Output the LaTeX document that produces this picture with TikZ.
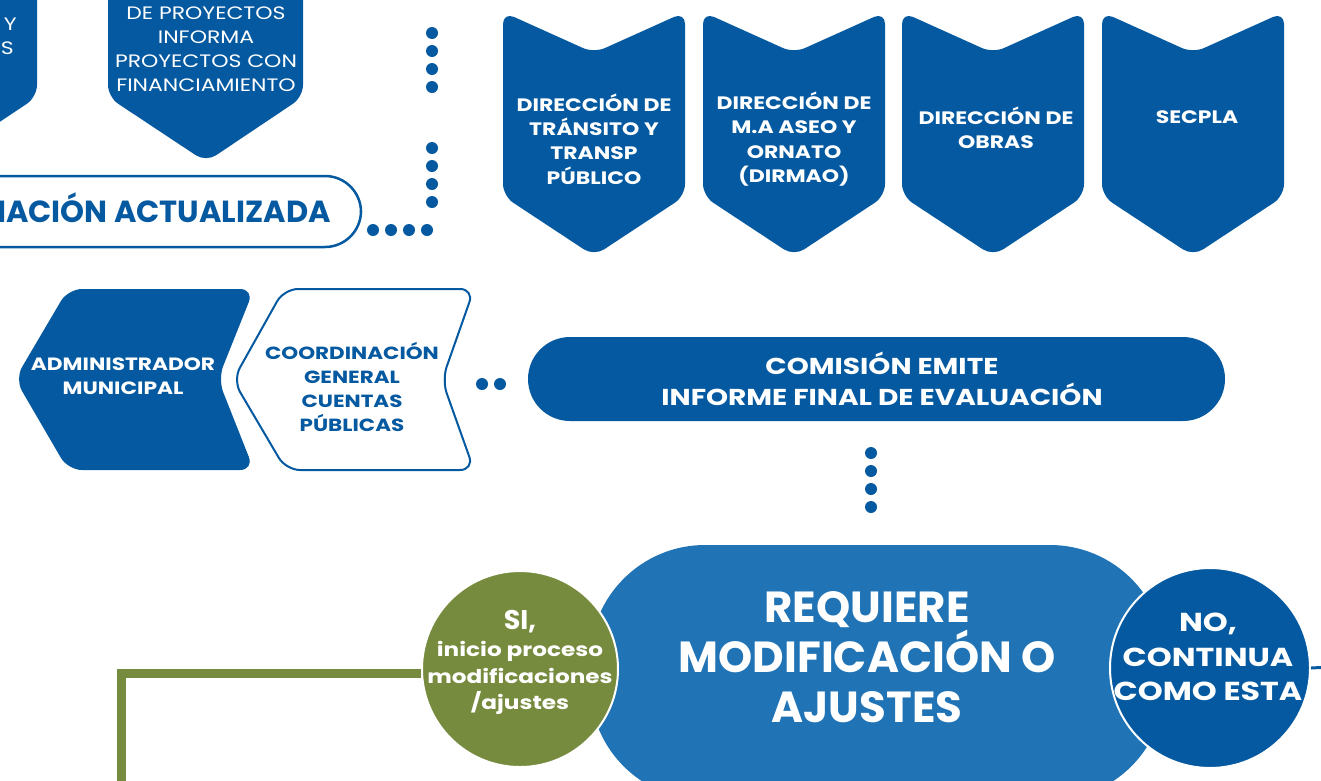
\documentclass[tikz,border=0pt]{standalone}
\usepackage{fontspec}
\setmainfont{Poppins}[FakeStretch=1.22]
\newfontfamily\plainfont{Poppins}
\definecolor{muniblue}{RGB}{4,89,160}
\definecolor{reqblue}{RGB}{32,115,181}
\definecolor{munigreen}{RGB}{118,139,62}
\usetikzlibrary{positioning,calc}

\tikzset{
  whitetxt/.style={text=white, font=\bfseries\fontsize{18}{24.3}\selectfont, align=center, inner sep=0pt},
  bluetxt/.style={text=muniblue, font=\bfseries\fontsize{17.6}{23.7}\selectfont, align=center, inner sep=0pt},
  lighttxt/.style={text=white, font=\fontsize{18}{24}\selectfont, align=center, inner sep=0pt},
  dots/.style={muniblue, line width=12pt, line cap=round, dash pattern=on 0pt off 18pt},
  greenline/.style={munigreen, line width=9pt},
  chevfill/.style={muniblue, rounded corners=12pt},
}

\begin{document}
\begin{tikzpicture}[x=1pt, y=-1pt]
  \useasboundingbox (0,0) rectangle (1321,780);
  \clip (0,0) rectangle (1321,780);

  % upper row, cut at the top
  \fill[chevfill] (-160,-30) -- (37,-30) -- (37,97) -- (-59,161) -- (-160,97) -- cycle;
  \node[lighttxt, anchor=east] (ytxt) at (17,24) {Y};
  \node[lighttxt, anchor=east] (stxt) at (14,48) {S};

  \fill[chevfill] (108,-30) -- (303,-30) -- (303,97) -- (206,162) -- (108,97) -- cycle;
  \node[lighttxt] (proyectos) at (206,49) {DE PROYECTOS\\INFORMA\\PROYECTOS CON\\FINANCIAMIENTO};

  \draw[muniblue, line width=2.5pt, fill=white, rounded corners=36pt] (-60,176) rectangle (361,247);
  \node[bluetxt, font=\plainfont\bfseries\fontsize{30.5}{31}\selectfont, anchor=base east] (informacion) at (331,222) {IACIÓN ACTUALIZADA};

  \coordinate (d1a) at (432,33);
  \coordinate (d1b) at (432,87);
  \coordinate (d2a) at (432,148);
  \coordinate (d2b) at (432,202);
  \coordinate (d3a) at (427,230);
  \coordinate (d3b) at (373,230);
  \draw[dots] (d1a) -- (d1b);
  \draw[dots] (d2a) -- (d2b);
  \draw[dots] (d3a) -- (d3b);

  % direcciones
  \foreach \cx in {594,794,993,1193}
    \fill[chevfill] (\cx-91,12) -- (\cx,53) -- (\cx+91,12) -- (\cx+91,196) -- (\cx,256) -- (\cx-91,196) -- cycle;
  \node[whitetxt] (transito) at (594,139) {DIRECCIÓN DE\\TRÁNSITO Y\\TRANSP\\PÚBLICO};
  \node[whitetxt] (dirmao) at (794,139) {DIRECCIÓN DE\\M.A ASEO Y\\ORNATO\\(DIRMAO)};
  \node[whitetxt] (obras) at (996,128) {DIRECCIÓN DE\\OBRAS};
  \node[whitetxt] (secpla) at (1197,117) {SECPLA};

  % middle row
  \fill[muniblue, rounded corners=14pt] (15,379) -- (68,289) -- (254,289) -- (218,379) -- (254,470) -- (68,470) -- cycle;
  \node[whitetxt, font=\bfseries\fontsize{17.8}{23.5}\selectfont] (admin) at (123,376) {ADMINISTRADOR\\MUNICIPAL};

  \draw[muniblue, line width=2pt, fill=white, rounded corners=14pt] (233,380) -- (284,289) -- (474,289) -- (442,380) -- (474,470) -- (286,470) -- cycle;
  \node[bluetxt] (coord) at (352,387) {COORDINACIÓN\\GENERAL\\CUENTAS\\PÚBLICAS};

  \fill[muniblue, rounded corners=42pt] (528,337) rectangle (1225,421);
  \node[whitetxt, font=\bfseries\fontsize{23}{31}\selectfont] (comision) at (882,379) {COMISIÓN EMITE\\INFORME FINAL DE EVALUACIÓN};

  \coordinate (c1) at (482,384);
  \coordinate (c2) at (500,384);
  \draw[dots] (c1) -- (c2);
  \coordinate (r1) at (871,453);
  \coordinate (r2) at (871,507);
  \draw[dots] (r1) -- (r2);

  % decision
  \fill[reqblue, rounded corners=115pt] (590,545) rectangle (1165,800);
  \node[whitetxt, font=\plainfont\bfseries\fontsize{43.5}{50}\selectfont] (requiere) at (867,657) {REQUIERE\\MODIFICACIÓN O\\AJUSTES};

  \node[circle, fill=munigreen, draw=white, line width=2pt, minimum size=196pt, inner sep=0pt] (si) at (520,669) {};
  \coordinate (sibend) at (121,673);
  \coordinate (siend) at (121,800);
  \draw[greenline] (si.west |- sibend) -- (sibend) -- (siend);
  \node[whitetxt, font=\plainfont\bfseries\fontsize{27}{30}\selectfont] (sihead) at (520,622) {SI,};
  \node[whitetxt, font=\bfseries\fontsize{19}{26.5}\selectfont] (sitext) at (520,678) {inicio proceso\\modificaciones\\/ajustes};

  \node[circle, fill=muniblue, draw=white, line width=2pt, minimum size=200pt, inner sep=0pt] (no) at (1210,668) {};
  \coordinate (noend) at (1330,667);
  \draw[muniblue, line width=3pt] (no.east) -- (noend);
  \node[whitetxt, font=\bfseries\fontsize{26}{34.5}\selectfont] (notext) at (1208,657) {NO,\\CONTINUA\\COMO ESTA};
\end{tikzpicture}
\end{document}
